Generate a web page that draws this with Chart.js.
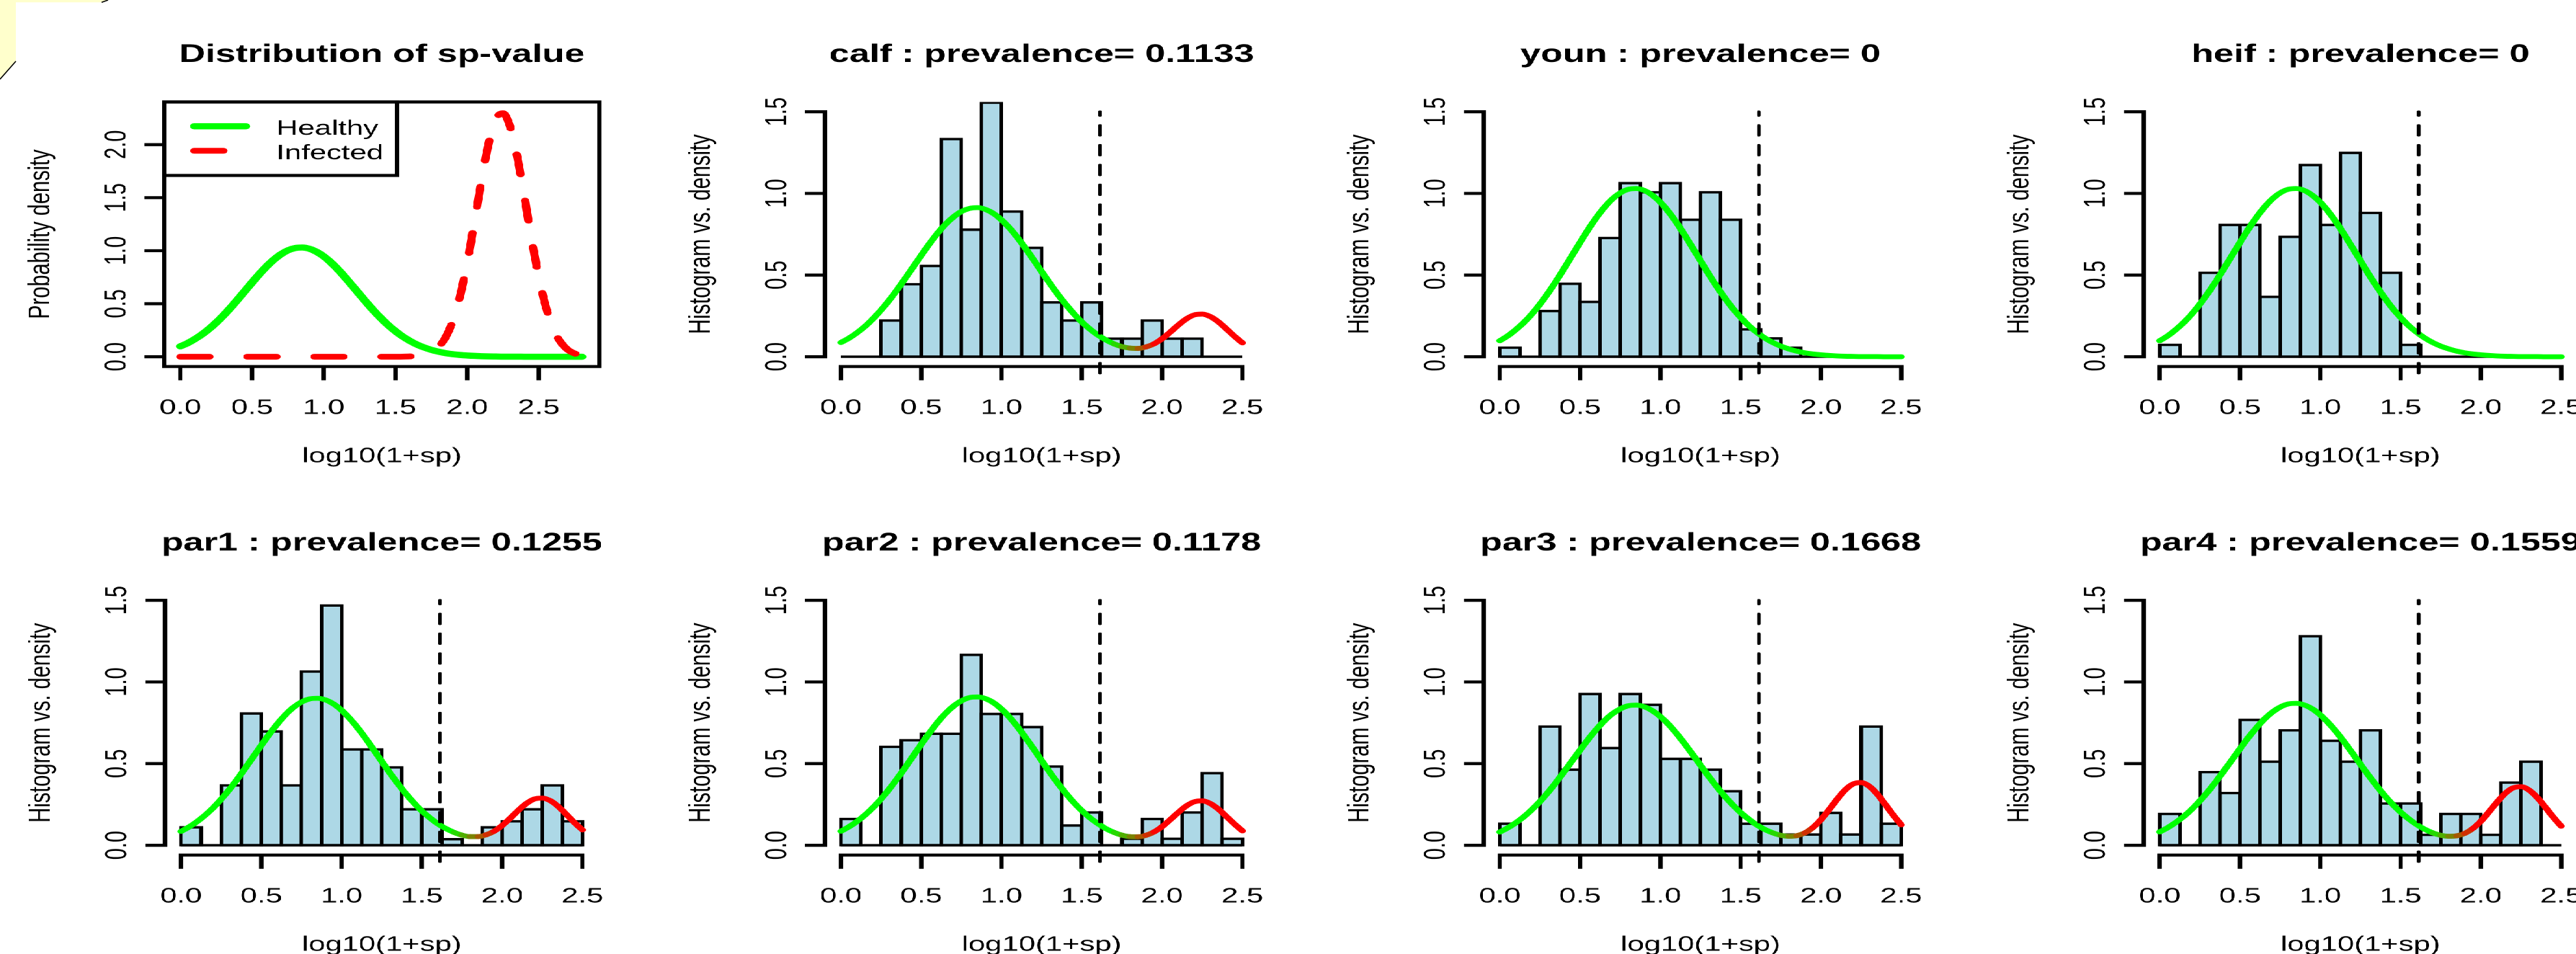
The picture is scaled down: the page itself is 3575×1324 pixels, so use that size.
<!DOCTYPE html>
<html>
<head>
<meta charset="utf-8">
<title>sp-value histograms</title>
<script src="https://cdn.jsdelivr.net/npm/chart.js"></script>
<style>
  html, body { margin: 0; padding: 0; background: #fff; overflow: hidden; }
  body { width: 3575px; height: 1324px; position: relative; }
  /* the original figure is stretched sideways, so the whole grid is too */
  #wrap { position: absolute; left: 0; top: 0; width: 2483px; height: 1324px; transform: scaleX(1.44); transform-origin: 0 0; }
  #wrap canvas { position: absolute; }
  #corner { position: absolute; left: 0; top: 0; }
</style>
</head>
<body>
<div id="wrap"></div>
<svg id="corner" width="160" height="120">
  <polygon points="0,0 150,0 141,3.3 22,3.3 22,85 0,110" fill="#ffffcc"/>
  <line x1="0" y1="110" x2="22" y2="85" stroke="#000" stroke-width="1.5"/>
  <line x1="141" y1="3.3" x2="150" y2="0" stroke="#000" stroke-width="1.5"/>
</svg>
<script>
// histogram bins: width 0.125 from 0 to 2.5
const binMids = [0.0625, 0.1875, 0.3125, 0.4375, 0.5625, 0.6875, 0.8125, 0.9375, 1.0625, 1.1875,
                 1.3125, 1.4375, 1.5625, 1.6875, 1.8125, 1.9375, 2.0625, 2.1875, 2.3125, 2.4375];
// x positions where the density curves were read
const curveX = [0, 0.05, 0.1, 0.15, 0.2, 0.25, 0.3, 0.35, 0.4, 0.45, 0.5, 0.55, 0.6, 0.65, 0.7, 0.75, 0.8, 0.85, 0.9, 0.95,
                1, 1.05, 1.1, 1.15, 1.2, 1.25, 1.3, 1.35, 1.4, 1.45, 1.5, 1.55, 1.6, 1.65, 1.7, 1.75, 1.8, 1.85, 1.9, 1.95,
                2, 2.05, 2.1, 2.15, 2.2, 2.25, 2.3, 2.35, 2.4, 2.45, 2.5, 2.55, 2.6, 2.65, 2.7, 2.75, 2.8];

// first panel: the two component densities
const healthyDens = [0.098, 0.128, 0.166, 0.210, 0.262, 0.322, 0.389, 0.462, 0.540, 0.620,
                     0.700, 0.778, 0.850, 0.913, 0.965, 1.003, 1.025, 1.030, 1.018, 0.989,
                     0.946, 0.889, 0.822, 0.747, 0.668, 0.588, 0.508, 0.432, 0.362, 0.297,
                     0.241, 0.191, 0.150, 0.115, 0.087, 0.065, 0.048, 0.034, 0.024, 0.017,
                     0.012, 0.008, 0.005, 0.003, 0.002, 0.001, 0.001, 0.001, 0, 0,
                     0, 0, 0, 0, 0, 0, 0];
const infectedDens = [0, 0, 0, 0, 0, 0, 0, 0, 0, 0,
                      0, 0, 0, 0, 0, 0, 0, 0, 0, 0,
                      0, 0, 0, 0, 0, 0, 0, 0, 0, 0,
                      0, 0.001, 0.003, 0.007, 0.018, 0.043, 0.092, 0.184, 0.337, 0.569,
                      0.884, 1.263, 1.661, 2.011, 2.240, 2.296, 2.167, 1.881, 1.503, 1.106,
                      0.748, 0.466, 0.267, 0.141, 0.068, 0.031, 0.013];

// histogram densities per group
const calfHist = [0, 0, 0.222, 0.444, 0.556, 1.333, 0.778, 1.556, 0.889, 0.667, 0.333, 0.222, 0.333, 0.111, 0.111, 0.222, 0.111, 0.111, 0, 0];
const younHist = [0.056, 0, 0.280, 0.447, 0.336, 0.727, 1.063, 1.007, 1.063, 0.839, 1.007, 0.839, 0.168, 0.112, 0.056, 0, 0, 0, 0, 0];
const heifHist = [0.073, 0, 0.514, 0.807, 0.807, 0.367, 0.734, 1.174, 0.807, 1.248, 0.881, 0.514, 0.073, 0, 0, 0, 0, 0, 0, 0];
const par1Hist = [0.110, 0, 0.367, 0.807, 0.697, 0.367, 1.064, 1.468, 0.587, 0.587, 0.477, 0.220, 0.220, 0.037, 0, 0.110, 0.147, 0.220, 0.367, 0.147];
const par2Hist = [0.161, 0, 0.603, 0.643, 0.683, 0.683, 1.166, 0.804, 0.804, 0.724, 0.482, 0.121, 0.201, 0, 0.040, 0.161, 0.040, 0.201, 0.442, 0.040];
const par3Hist = [0.132, 0, 0.727, 0.463, 0.926, 0.595, 0.926, 0.860, 0.529, 0.529, 0.463, 0.331, 0.132, 0.132, 0.066, 0.066, 0.198, 0.066, 0.727, 0.132];
const par4Hist = [0.192, 0, 0.448, 0.320, 0.768, 0.512, 0.704, 1.280, 0.640, 0.512, 0.704, 0.256, 0.256, 0.064, 0.192, 0.192, 0.064, 0.384, 0.512, 0];

// fitted mixture curves (x = curveX[0..50])
const calfCurve = [0.087, 0.114, 0.147, 0.186, 0.233, 0.286, 0.345, 0.410, 0.479, 0.550,
                   0.621, 0.690, 0.754, 0.810, 0.855, 0.889, 0.908, 0.913, 0.902, 0.877,
                   0.838, 0.788, 0.729, 0.663, 0.593, 0.521, 0.451, 0.383, 0.321, 0.264,
                   0.213, 0.170, 0.133, 0.103, 0.079, 0.062, 0.053, 0.051, 0.060, 0.079,
                   0.110, 0.150, 0.193, 0.231, 0.256, 0.261, 0.246, 0.214, 0.171, 0.126, 0.085];
const younCurve = healthyDens.slice(0, 51);
const heifCurve = healthyDens.slice(0, 51);
const par1Curve = [0.085, 0.112, 0.145, 0.184, 0.229, 0.282, 0.340, 0.404, 0.472, 0.542,
                   0.612, 0.680, 0.743, 0.799, 0.844, 0.877, 0.896, 0.900, 0.890, 0.865,
                   0.827, 0.777, 0.719, 0.654, 0.584, 0.514, 0.444, 0.378, 0.316, 0.260,
                   0.210, 0.168, 0.131, 0.102, 0.079, 0.062, 0.053, 0.053, 0.064, 0.086,
                   0.121, 0.165, 0.213, 0.255, 0.283, 0.289, 0.273, 0.237, 0.189, 0.139, 0.094];
const par2Curve = [0.086, 0.113, 0.146, 0.185, 0.231, 0.284, 0.343, 0.408, 0.476, 0.547,
                   0.618, 0.686, 0.750, 0.806, 0.851, 0.884, 0.904, 0.908, 0.898, 0.873,
                   0.834, 0.784, 0.725, 0.659, 0.590, 0.518, 0.448, 0.381, 0.319, 0.262,
                   0.212, 0.169, 0.133, 0.102, 0.079, 0.062, 0.053, 0.052, 0.061, 0.082,
                   0.114, 0.156, 0.200, 0.240, 0.266, 0.272, 0.256, 0.222, 0.177, 0.131, 0.088];
const par3Curve = [0.081, 0.107, 0.138, 0.175, 0.219, 0.268, 0.324, 0.385, 0.450, 0.517,
                   0.583, 0.648, 0.708, 0.761, 0.804, 0.835, 0.854, 0.858, 0.848, 0.824,
                   0.788, 0.741, 0.685, 0.623, 0.557, 0.490, 0.423, 0.360, 0.301, 0.248,
                   0.200, 0.160, 0.125, 0.097, 0.076, 0.061, 0.055, 0.059, 0.076, 0.109,
                   0.157, 0.217, 0.281, 0.338, 0.375, 0.384, 0.362, 0.314, 0.251, 0.185, 0.125];
const par4Curve = [0.082, 0.108, 0.140, 0.177, 0.221, 0.272, 0.328, 0.390, 0.456, 0.523,
                   0.591, 0.657, 0.717, 0.771, 0.814, 0.846, 0.865, 0.869, 0.859, 0.835,
                   0.798, 0.750, 0.694, 0.631, 0.564, 0.496, 0.429, 0.365, 0.305, 0.251,
                   0.203, 0.162, 0.127, 0.098, 0.076, 0.061, 0.055, 0.058, 0.073, 0.103,
                   0.147, 0.204, 0.263, 0.316, 0.351, 0.359, 0.338, 0.294, 0.235, 0.173, 0.117];

const cutoff = 1.613;   // log10(1+40)
const xTicks = [0, 0.5, 1, 1.5, 2, 2.5];
const yTicksHist = [0, 0.5, 1, 1.5];
const yTicksDist = [0, 0.5, 1, 1.5, 2];

const groups = [
  { title: 'calf : prevalence= 0.1133', hist: calfHist, curve: calfCurve, mixed: true },
  { title: 'youn : prevalence= 0', hist: younHist, curve: younCurve, mixed: false },
  { title: 'heif : prevalence= 0', hist: heifHist, curve: heifCurve, mixed: false },
  { title: 'par1 : prevalence= 0.1255', hist: par1Hist, curve: par1Curve, mixed: true },
  { title: 'par2 : prevalence= 0.1178', hist: par2Hist, curve: par2Curve, mixed: true },
  { title: 'par3 : prevalence= 0.1668', hist: par3Hist, curve: par3Curve, mixed: true },
  { title: 'par4 : prevalence= 0.1559', hist: par4Hist, curve: par4Curve, mixed: true },
];

const GREEN = '#00ff00', RED = '#ff0000', BAR = '#add8e6', INK = '#000';
const FONT = '29px "Liberation Sans", Arial, Helvetica, sans-serif';
const TITLE_FONT = 'bold 35px "Liberation Sans", Arial, Helvetica, sans-serif';
const AXIS_W = 4.2, EDGE_W = 3.4;

const pts = (xs, ys) => ys.map((v, i) => ({ x: xs[i], y: v }));

function mixColor(x) {
  const t = Math.min(1, Math.max(0, (x - 1.68) / 0.3));
  return 'rgb(' + Math.round(255 * t) + ',' + Math.round(255 * (1 - t)) + ',0)';
}

function label(ctx, s, x, y, font, align, rotated) {
  ctx.save();
  ctx.translate(x, y);
  if (rotated) ctx.rotate(-Math.PI / 2);
  ctx.font = font;
  ctx.textAlign = align;
  ctx.textBaseline = 'alphabetic';
  ctx.fillText(s, 0, 0);
  ctx.restore();
}

// base-R style axes, titles and legend
const rAxes = {
  id: 'rAxes',
  afterDraw(chart, args, o) {
    const ctx = chart.ctx, a = chart.chartArea, xs = chart.scales.x, ys = chart.scales.y;
    const midX = (a.left + a.right) / 2, midY = (a.top + a.bottom) / 2;
    const xt = o.xTicks, yt = o.yTicks;
    ctx.save();
    ctx.strokeStyle = INK;
    ctx.fillStyle = INK;
    ctx.lineWidth = AXIS_W;
    ctx.lineCap = 'square';
    ctx.beginPath();
    if (o.box) {
      ctx.rect(a.left, a.top, a.right - a.left, a.bottom - a.top);
    } else {
      ctx.moveTo(xs.getPixelForValue(xt[0]), a.bottom);
      ctx.lineTo(xs.getPixelForValue(xt[xt.length - 1]), a.bottom);
      ctx.moveTo(a.left, ys.getPixelForValue(yt[0]));
      ctx.lineTo(a.left, ys.getPixelForValue(yt[yt.length - 1]));
    }
    xt.forEach(v => { const p = xs.getPixelForValue(v); ctx.moveTo(p, a.bottom); ctx.lineTo(p, a.bottom + 17); });
    yt.forEach(v => { const p = ys.getPixelForValue(v); ctx.moveTo(a.left, p); ctx.lineTo(a.left - 17, p); });
    ctx.stroke();

    xt.forEach(v => label(ctx, v.toFixed(1), xs.getPixelForValue(v), a.bottom + 65.6, FONT, 'center', false));
    yt.forEach(v => label(ctx, v.toFixed(1), a.left - 37.5, ys.getPixelForValue(v), FONT, 'center', true));
    label(ctx, o.xTitle, midX, a.bottom + 133, FONT, 'center', false);
    label(ctx, o.yTitle, a.left - 111, midY, FONT, 'center', true);
    label(ctx, o.title, midX, a.top - 55.5, TITLE_FONT, 'center', false);

    if (o.legend) {
      ctx.lineWidth = AXIS_W;
      ctx.lineCap = 'butt';
      ctx.strokeRect(a.left, a.top, 224.3, 102);
      chart.data.datasets.forEach((d, i) => {
        const yy = a.top + 33.8 + i * 34;
        ctx.save();
        ctx.strokeStyle = d.borderColor;
        ctx.lineWidth = d.borderWidth;
        ctx.lineCap = 'round';
        ctx.setLineDash(d.borderDash || []);
        ctx.beginPath();
        ctx.moveTo(a.left + 29, yy);
        ctx.lineTo(a.left + 78.6, yy);
        ctx.stroke();
        ctx.restore();
        label(ctx, d.label, a.left + 108, yy + 11.8, FONT, 'left', false);
      });
    }
    ctx.restore();
  }
};

const wrap = document.getElementById('wrap');
function makeCanvas(col, row) {
  const c = document.createElement('canvas');
  c.width = 636;
  c.height = 678;
  c.style.left = (col * 635.6) + 'px';
  c.style.top = (row * 678) + 'px';
  wrap.appendChild(c);
  return c;
}

const baseOptions = (pad, xMin, xMax, yMin, yMax, axes) => ({
  responsive: false,
  animation: false,
  events: [],
  devicePixelRatio: 2,
  layout: { padding: pad },
  scales: {
    x: { type: 'linear', min: xMin, max: xMax, display: false, offset: false,
         afterBuildTicks: s => { s.ticks = xTicks.map(v => ({ value: v })); } },
    y: { type: 'linear', min: yMin, max: yMax, display: false }
  },
  plugins: { legend: { display: false }, tooltip: { enabled: false }, title: { display: false }, rAxes: axes }
});

// panel 1: the two component densities
new Chart(makeCanvas(0, 0), {
  type: 'line',
  data: {
    datasets: [
      { label: 'Healthy', data: pts(curveX, healthyDens), borderColor: GREEN, borderWidth: 8.5,
        pointRadius: 0, cubicInterpolationMode: 'monotone', borderCapStyle: 'round', borderJoinStyle: 'round', order: 1 },
      { label: 'Infected', data: pts(curveX, infectedDens), borderColor: RED, borderWidth: 8,
        borderDash: [28, 36.6], pointRadius: 0, cubicInterpolationMode: 'monotone', borderCapStyle: 'round', order: 0 }
    ]
  },
  options: baseOptions({ left: 158.3, right: 58.3, top: 141.5, bottom: 169.3 }, -0.1124, 2.9224, -0.0924, 2.4024,
    { xTicks: xTicks, yTicks: yTicksDist, box: true, legend: true,
      title: 'Distribution of sp-value', xTitle: 'log10(1+sp)', yTitle: 'Probability density' }),
  plugins: [rAxes]
});

// the seven group histograms
groups.forEach((g, k) => {
  const slot = k + 1;
  const curve = {
    type: 'line', data: pts(curveX, g.curve), borderColor: GREEN, borderWidth: 6.8, pointRadius: 0,
    cubicInterpolationMode: 'monotone', borderCapStyle: 'round', borderJoinStyle: 'round', order: 1
  };
  if (g.mixed) curve.segment = { borderColor: c => mixColor((c.p0.parsed.x + c.p1.parsed.x) / 2) };
  new Chart(makeCanvas(slot % 4, Math.floor(slot / 4)), {
    type: 'bar',
    data: {
      datasets: [
        { type: 'line', data: [{ x: cutoff, y: -0.1 }, { x: cutoff, y: 1.5 }], borderColor: INK, borderWidth: 3.4,
          borderDash: [13.75, 13.75], borderCapStyle: 'round', pointRadius: 0, clip: false, order: 0 },
        curve,
        { type: 'line', data: [{ x: 0, y: 0 }, { x: 2.5, y: 0 }], borderColor: INK, borderWidth: EDGE_W,
          pointRadius: 0, order: 2 },
        { type: 'bar', data: pts(binMids, g.hist), backgroundColor: BAR, borderColor: INK, borderWidth: EDGE_W,
          borderSkipped: false, inflateAmount: EDGE_W / 2, barPercentage: 1, categoryPercentage: 1, order: 3 }
      ]
    },
    options: baseOptions({ left: 159, right: 59.2, top: 141.5, bottom: 169.3 }, -0.1, 2.6, -0.06, 1.56,
      { xTicks: xTicks, yTicks: yTicksHist, box: false, legend: false,
        title: g.title, xTitle: 'log10(1+sp)', yTitle: 'Histogram vs. density' }),
    plugins: [rAxes]
  });
});
</script>
</body>
</html>
